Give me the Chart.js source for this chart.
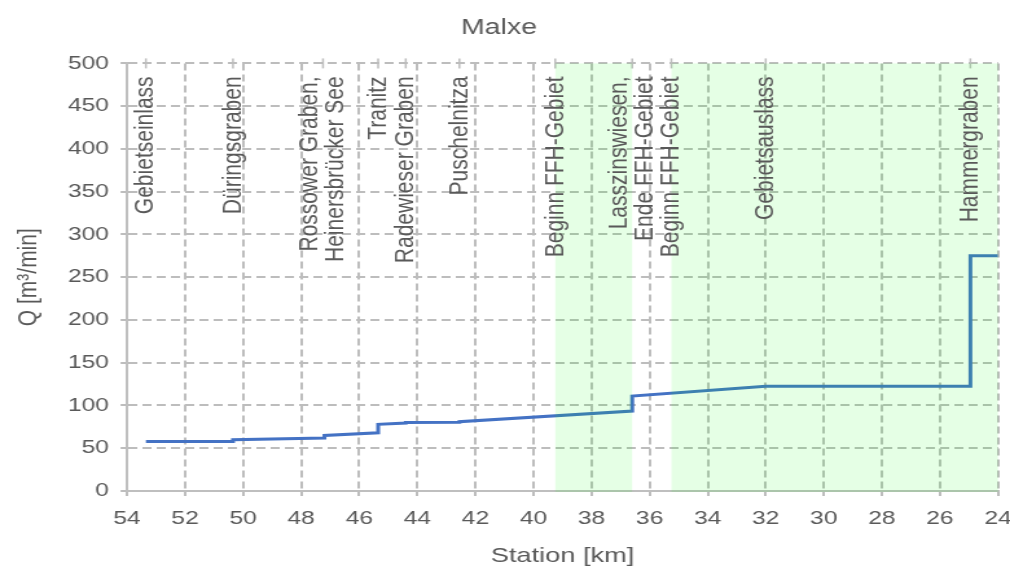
<!DOCTYPE html>
<html>
<head>
<meta charset="utf-8">
<script src="https://cdn.jsdelivr.net/npm/chart.js@4"></script>
<style>
    html, body { margin: 0; padding: 0; background: #fff; overflow: hidden; }
    /* the reference is a horizontally stretched export, so draw narrow and stretch */
    #wrap { width: 780px; height: 572px; transform: scaleX(1.2949); transform-origin: 0 0; }
</style>
</head>
<body>
<div id="wrap"><canvas id="chart" width="780" height="572"></canvas></div>
<script>
// Discharge along the river (station in km, Q in m³/min)
const stations  = [53.35, 50.35, 50.35, 47.2, 47.2, 45.35, 45.35, 44.4, 44.4, 42.55, 42.55, 36.6, 36.6, 32.0, 24.95, 24.95, 24.0];
const discharge = [58,    58,    60,    62,   65,   68,    78,    79.5, 80,   80.5,  81,    93.5, 111,  122.5, 122.5, 275,   275];

// Named points along the river
const markerStations = [53.35, 50.35, 47.25, 45.35, 44.4, 42.55, 39.25, 36.6, 35.25, 32.0, 24.95];
const markerNames = [
    ['Gebietseinlass'],
    ['Düringsgraben'],
    ['Rossower Graben,', 'Heinersbrücker See'],
    ['Tranitz'],
    ['Radewieser Graben'],
    ['Puschelnitza'],
    ['Beginn FFH-Gebiet'],
    ['Lasszinswiesen,', 'Ende FFH-Gebiet'],
    ['Beginn FFH-Gebiet'],
    ['Gebietsauslass'],
    ['Hammergraben']
];

// FFH areas
const ffhFrom = [39.25, 35.25];
const ffhTo   = [36.6, 24.0];

const FONT = "'Liberation Sans', Arial, sans-serif";
const TEXT = '#595959';
const GRID = '#bdbdbd';

Chart.defaults.font.family = FONT;
Chart.defaults.color = TEXT;

const markerPlugin = {
    id: 'markers',
    afterDatasetsDraw(chart) {
        const { ctx, chartArea: a, scales: { x } } = chart;
        ctx.save();

        // small ticks on the top edge at every named point
        ctx.strokeStyle = GRID;
        ctx.lineWidth = 1.5;
        markerStations.forEach(km => {
            const px = x.getPixelForValue(km);
            ctx.beginPath();
            ctx.moveTo(px, a.top - 5);
            ctx.lineTo(px, a.top + 5);
            ctx.stroke();
        });

        // FFH bands, drawn over grid and line like the original
        ctx.fillStyle = 'rgba(0, 255, 0, 0.1)';
        ffhFrom.forEach((km, i) => {
            const x1 = x.getPixelForValue(km);
            const x2 = x.getPixelForValue(ffhTo[i]);
            ctx.fillRect(x1, a.top, x2 - x1, a.bottom - a.top + 1);
        });

        // vertical labels
        ctx.fillStyle = TEXT;
        ctx.font = '21px ' + FONT;
        ctx.textAlign = 'right';
        ctx.textBaseline = 'middle';
        markerStations.forEach((km, i) => {
            const lines = markerNames[i];
            ctx.save();
            ctx.translate(x.getPixelForValue(km), a.top + 13);
            ctx.rotate(-Math.PI / 2);
            lines.forEach((t, j) => ctx.fillText(t, 0, (j - (lines.length - 1) / 2) * 19.5));
            ctx.restore();
        });

        ctx.restore();
    }
};

new Chart(document.getElementById('chart'), {
    type: 'line',
    data: {
        datasets: [{
            data: stations.map((s, i) => ({ x: s, y: discharge[i] })),
            borderColor: '#4472C4',
            borderWidth: 3,
            borderJoinStyle: 'miter',
            pointRadius: 0,
            tension: 0,
            fill: false
        }]
    },
    options: {
        responsive: false,
        animation: false,
        devicePixelRatio: 1,
        layout: { padding: { top: 0, right: 9.3, bottom: 0, left: 0 } },
        plugins: {
            legend: { display: false },
            tooltip: { enabled: false },
            title: {
                display: true,
                text: 'Malxe',
                color: TEXT,
                font: { size: 22, weight: 'normal' },
                padding: { top: 15, bottom: 22 }
            }
        },
        scales: {
            x: {
                type: 'linear',
                reverse: true,
                min: 24,
                max: 54,
                afterFit: s => { s.height = 81; s.paddingLeft = 0; s.paddingRight = 0; },
                ticks: { stepSize: 2, font: { size: 19 }, color: TEXT, padding: 11, maxRotation: 0 },
                grid: { color: GRID, lineWidth: 2, tickLength: 5, tickColor: GRID, tickBorderDash: [] },
                border: { display: true, color: '#bfbfbf', width: 2, dash: [7, 4] },
                title: { display: true, text: 'Station [km]', color: TEXT, font: { size: 21 }, padding: { top: 4, bottom: 3 } }
            },
            y: {
                min: 0,
                max: 500,
                afterFit: s => { s.width = 98.1; },
                ticks: { stepSize: 50, font: { size: 19 }, color: TEXT, padding: 9 },
                grid: { color: GRID, lineWidth: 2, tickLength: 5, tickColor: GRID, tickBorderDash: [] },
                border: { display: true, color: '#bfbfbf', width: 2, dash: [7, 4] },
                title: { display: true, text: 'Q [m³/min]', color: TEXT, font: { size: 21 }, padding: { top: 10, bottom: 4 } }
            }
        }
    },
    plugins: [markerPlugin]
});
</script>
</body>
</html>
